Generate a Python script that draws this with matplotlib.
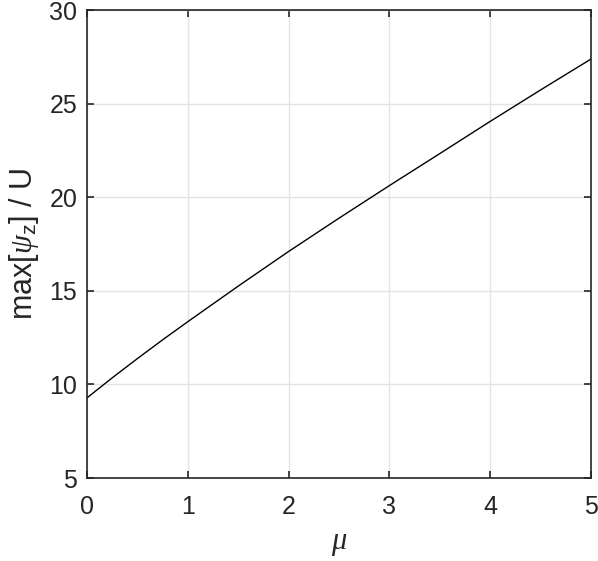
import matplotlib
matplotlib.use('Agg')
import matplotlib.pyplot as plt
from matplotlib import rcParams

rcParams.update({
    'font.family': ['Liberation Sans', 'DejaVu Sans'],
    'mathtext.fontset': 'custom',
    'mathtext.rm': 'Liberation Sans',
    'mathtext.it': 'Liberation Serif:italic',
    'mathtext.bf': 'Liberation Sans:bold',
})

# values
mu = [0, 0.25, 0.5, 0.75, 1, 1.5, 2, 2.5, 3, 3.5, 4, 4.5, 5]
psi_max = [9.28, 10.35, 11.38, 12.38, 13.35, 15.25, 17.1, 18.88,
           20.62, 22.33, 24.05, 25.73, 27.38]

x_ticks = [0, 1, 2, 3, 4, 5]
y_ticks = [5, 10, 15, 20, 25, 30]

fig = plt.figure(figsize=(5.98, 5.61), dpi=100)
ax = fig.add_axes([87 / 598, 83 / 561, 504 / 598, 468 / 561])

ax.plot(mu, psi_max, color='black', linewidth=1.0)

ax.set_xlim(0, 5)
ax.set_ylim(5, 30)
ax.set_xticks(x_ticks)
ax.set_yticks(y_ticks)

ax.grid(True, color='#e3e3e3', linewidth=1.0)
ax.set_axisbelow(True)
for s in ax.spines.values():
    s.set_color('#262626')
    s.set_linewidth(1.2)
ax.tick_params(direction='in', length=5, width=1.2, colors='#262626',
               labelsize=18, top=True, right=True)
ax.tick_params(axis='x', pad=12)
ax.tick_params(axis='y', pad=7)

ax.set_xlabel(r'$\mu$', fontsize=22, color='#262626', labelpad=7)
ax.set_ylabel(r'max[$\psi_\mathrm{z}$] / U', fontsize=22, color='#262626', labelpad=6)

plt.savefig('out.png', dpi=100)
plt.close()
